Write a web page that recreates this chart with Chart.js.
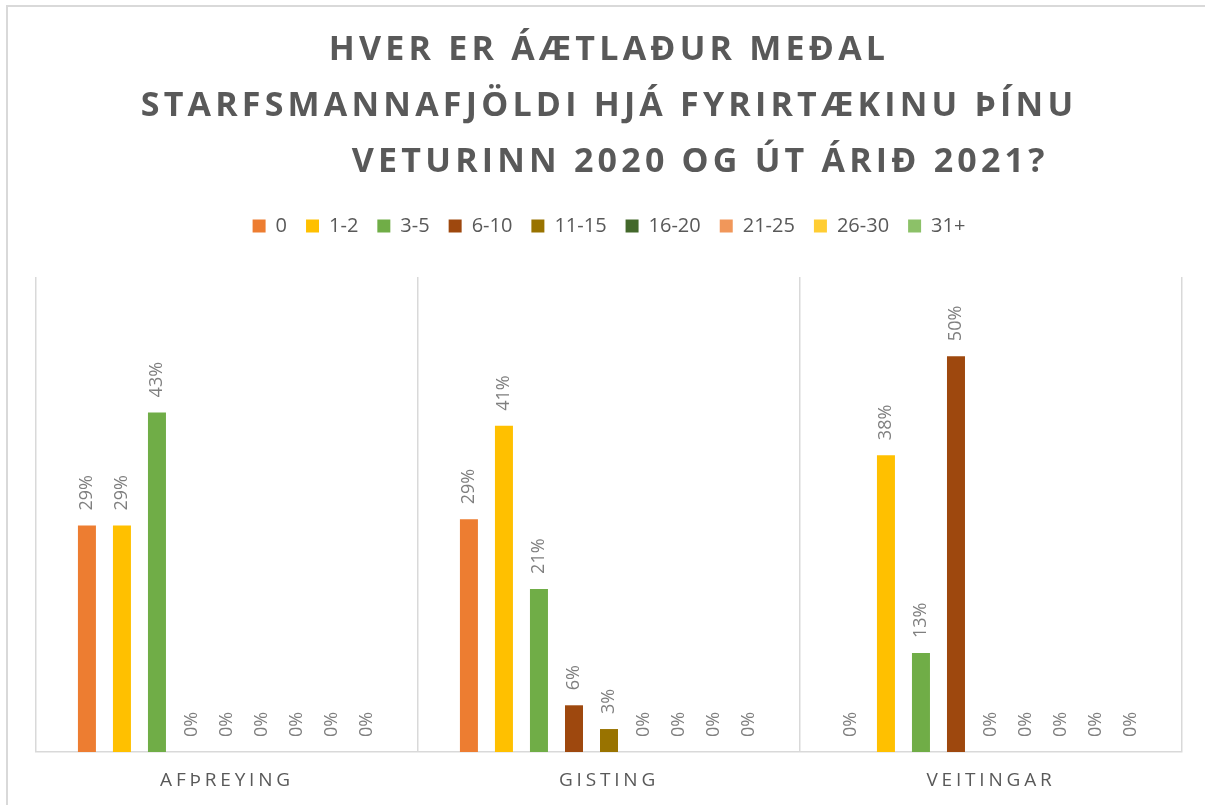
<!DOCTYPE html>
<html>
<head>
<meta charset="utf-8">
<script src="https://cdn.jsdelivr.net/npm/chart.js@4.4.0/dist/chart.umd.min.js"></script>
<style>
  html, body { margin: 0; padding: 0; background: #fff; }
  #frame { position: absolute; left: 6px; top: 5px; width: 1300px; height: 900px; border: 2px solid #d9d9d9; box-sizing: border-box; }
  #chart { position: absolute; left: 0; top: 0; }
</style>
</head>
<body>
<div id="frame"></div>
<canvas id="chart" width="1205" height="805"></canvas>
<script>
var categories = ['AFÞREYING', 'GISTING', 'VEITINGAR'];
var seriesNames = ['0', '1-2', '3-5', '6-10', '11-15', '16-20', '21-25', '26-30', '31+'];

// % of answers per category (Afþreying, Gisting, Veitingar)
var emp0 = [28.6, 29.4, 0];
var emp1to2 = [28.6, 41.2, 37.5];
var emp3to5 = [42.9, 20.6, 12.5];
var emp6to10 = [0, 5.9, 50];
var emp11to15 = [0, 2.9, 0];
var emp16to20 = [0, 0, 0];
var emp21to25 = [0, 0, 0];
var emp26to30 = [0, 0, 0];
var emp31plus = [0, 0, 0];

var titleLines = [
  'HVER ER ÁÆTLAÐUR MEÐAL',
  'STARFSMANNAFJÖLDI HJÁ FYRIRTÆKINU ÞÍNU',
  '              VETURINN 2020 OG ÚT ÁRIÐ 2021?'
];

var colors = ['#ED7D31', '#FFC000', '#70AD47', '#9E480E', '#997300', '#43682B', '#F1975A', '#FFCD33', '#8CC168'];
var allSeries = [emp0, emp1to2, emp3to5, emp6to10, emp11to15, emp16to20, emp21to25, emp26to30, emp31plus];

var datasets = allSeries.map(function(vals, i) {
  return {
    label: seriesNames[i],
    data: vals,
    backgroundColor: colors[i],
    borderWidth: 0,
    categoryPercentage: 0.825,
    barPercentage: 0.514
  };
});

// letter spacing for title + category labels, taller legend box, rotated value labels
var extras = {
  id: 'extras',
  beforeLayout: function(chart) {
    var lg = chart.legend;
    if (lg && !lg._patched) {
      var fit = lg.fit;
      lg.fit = function() { fit.call(this); this.height = 80; };
      lg._patched = true;
    }
    var tb = chart.titleBlock;
    if (tb && !tb._patched) {
      var draw = tb.draw;
      tb.draw = function() {
        this.ctx.save();
        this.ctx.letterSpacing = '4.2px';
        draw.apply(this, arguments);
        this.ctx.restore();
      };
      tb._patched = true;
    }
  },
  afterLayout: function(chart) {
    var xs = chart.scales.x;
    if (xs && !xs._patched) {
      var drawLabels = xs.drawLabels;
      xs.drawLabels = function() {
        this.ctx.save();
        this.ctx.letterSpacing = '3.8px';
        drawLabels.apply(this, arguments);
        this.ctx.restore();
      };
      xs._patched = true;
    }
  },
  afterDatasetsDraw: function(chart) {
    var ctx = chart.ctx;
    ctx.save();
    ctx.font = '18px "Open Sans"';
    ctx.fillStyle = '#7f7f7f';
    ctx.textAlign = 'left';
    ctx.textBaseline = 'middle';
    chart.data.datasets.forEach(function(ds, i) {
      chart.getDatasetMeta(i).data.forEach(function(bar, j) {
        ctx.save();
        ctx.translate(bar.x, bar.y - 15);
        ctx.rotate(-Math.PI / 2);
        ctx.fillText(Math.round(ds.data[j]) + '%', 0, 0);
        ctx.restore();
      });
    });
    ctx.restore();
  }
};

var ctx = document.getElementById('chart').getContext('2d');
var myChart = new Chart(ctx, {
  type: 'bar',
  data: {
    labels: categories,
    datasets: datasets
  },
  options: {
    responsive: false,
    animation: false,
    layout: { padding: { left: 36, right: 23, top: 0, bottom: 14 } },
    plugins: {
      title: {
        display: true,
        text: titleLines,
        color: '#595959',
        font: { family: 'Open Sans', size: 34, weight: 'bold', lineHeight: '56px' },
        padding: { top: 22, bottom: 7 }
      },
      legend: {
        position: 'top',
        labels: {
          color: '#595959',
          font: { family: 'Open Sans', size: 20 },
          boxWidth: 13,
          boxHeight: 13,
          padding: 19
        }
      },
      tooltip: { enabled: false }
    },
    scales: {
      x: {
        grid: { color: '#d9d9d9', lineWidth: 1.5, drawTicks: false, offset: true },
        border: { color: '#d9d9d9', width: 1.5 },
        ticks: { color: '#595959', font: { family: 'Open Sans', size: 19 }, padding: 17 },
        afterFit: function(scale) { scale.height = 39; }
      },
      y: {
        display: false,
        min: 0,
        max: 60
      }
    }
  },
  plugins: [extras]
});
</script>
</body>
</html>
